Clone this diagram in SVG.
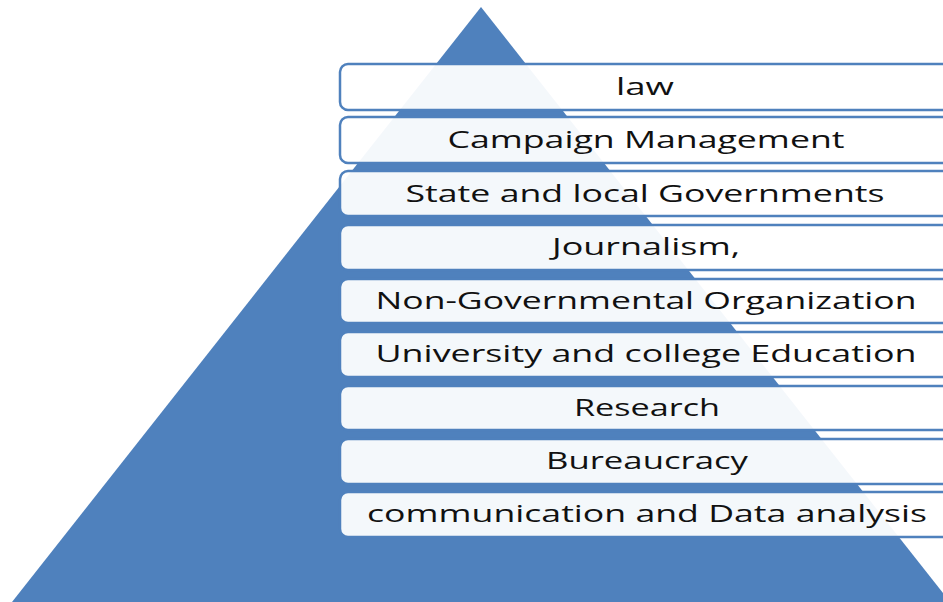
<svg xmlns="http://www.w3.org/2000/svg" width="943" height="602" viewBox="0 0 943 602">
<style>
.box{fill:#ffffff;fill-opacity:0.94;stroke:#4F81BD;stroke-width:2.5}
.t{font-family:"Open Sans","Liberation Sans",sans-serif;font-size:23px;fill:#111;text-anchor:middle}
</style>
<rect width="943" height="602" fill="#ffffff"/>
<g id="pyramid"><polygon points="481,7 12,602 950,602" fill="#4F81BD"/></g>
<g id="n1"><rect class="box" x="340" y="64" width="620" height="46" rx="8"/><text class="t" x="645" y="95" textLength="58" lengthAdjust="spacingAndGlyphs">law</text></g>
<g id="n2"><rect class="box" x="340" y="117" width="620" height="46" rx="8"/><text class="t" x="646" y="148" textLength="397" lengthAdjust="spacingAndGlyphs">Campaign Management</text></g>
<g id="n3"><rect class="box" x="340" y="171" width="620" height="45" rx="8"/><text class="t" x="645" y="202" textLength="479" lengthAdjust="spacingAndGlyphs">State and local Governments</text></g>
<g id="n4"><rect class="box" x="340" y="225" width="620" height="45" rx="8"/><text class="t" x="646" y="255" textLength="188" lengthAdjust="spacingAndGlyphs">Journalism,</text></g>
<g id="n5"><rect class="box" x="340" y="279" width="620" height="44" rx="8"/><text class="t" x="646" y="309" textLength="541" lengthAdjust="spacingAndGlyphs">Non-Governmental Organization</text></g>
<g id="n6"><rect class="box" x="340" y="332" width="620" height="45" rx="8"/><text class="t" x="646" y="362" textLength="541" lengthAdjust="spacingAndGlyphs">University and college Education</text></g>
<g id="n7"><rect class="box" x="340" y="386" width="620" height="44" rx="8"/><text class="t" x="647" y="416" textLength="146" lengthAdjust="spacingAndGlyphs">Research</text></g>
<g id="n8"><rect class="box" x="340" y="439" width="620" height="45" rx="8"/><text class="t" x="647" y="469" textLength="202" lengthAdjust="spacingAndGlyphs">Bureaucracy</text></g>
<g id="n9"><rect class="box" x="340" y="492" width="620" height="45" rx="8"/><text class="t" x="647" y="522" textLength="560" lengthAdjust="spacingAndGlyphs">communication and Data analysis</text></g>
<g id="connectors"></g>
</svg>
